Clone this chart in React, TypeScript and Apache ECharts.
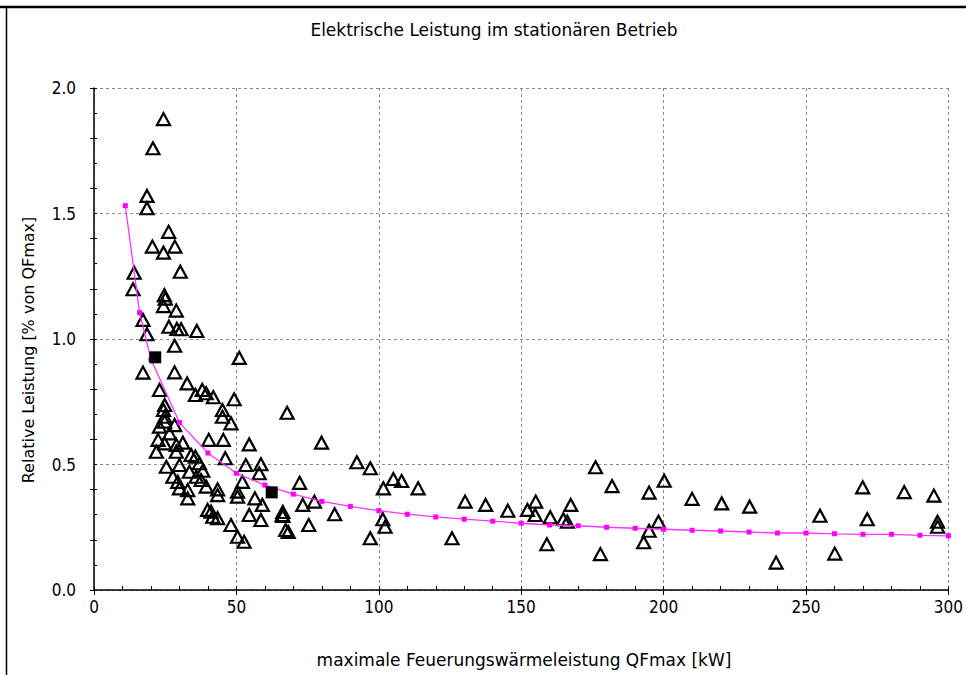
import React, { useEffect, useRef } from "react";
import * as echarts from "echarts";

// Tick values
const xTicks = [0, 50, 100, 150, 200, 250, 300];
const yTicks = [0, 0.5, 1.0, 1.5, 2.0];

// Fitted curve (magenta)
const fitX = [11, 16, 20, 30, 40, 50, 60, 70, 80, 90, 100, 110, 120, 130, 140, 150, 160, 170, 180, 190, 200, 210, 220, 230, 240, 250, 260, 270, 280, 290, 300];
const fitY = [1.531, 1.105, 0.919, 0.667, 0.546, 0.465, 0.418, 0.382, 0.353, 0.333, 0.316, 0.302, 0.291, 0.282, 0.274, 0.266, 0.259, 0.256, 0.25, 0.246, 0.242, 0.238, 0.235, 0.231, 0.227, 0.227, 0.224, 0.222, 0.222, 0.218, 0.216];

// Highlighted points (black squares)
const refX = [21.5, 62.4];
const refY = [0.927, 0.389];

// Measured values (triangles)
const measX = [
  24.4, 20.7, 18.6, 18.6, 26.2, 20.5, 24.4, 28.4, 14.1, 30.3, 13.7, 24.7, 25.0, 24.4, 28.9, 17.2, 26.3, 29.1, 30.6, 36.1,
  18.6, 28.3, 51.0, 17.2, 28.3, 32.7, 23.0, 38.0, 35.6, 39.4, 41.9, 49.2, 24.8, 24.4, 45.1, 67.8, 24.8, 45.1, 24.8, 48.1,
  28.3, 23.0, 26.5, 22.5, 31.2, 40.3, 45.4, 54.5, 24.8, 28.9, 21.9, 28.9, 34.1, 35.6, 46.1, 37.0, 53.3, 58.6, 30.0, 25.4,
  33.5, 38.2, 27.7, 35.9, 58.0, 52.1, 29.4, 37.6, 30.0, 32.9, 39.4, 43.4, 50.4, 50.4, 32.9, 43.4, 56.5, 59.1, 66.1, 39.9,
  41.1, 43.4, 41.7, 54.5, 58.6, 48.1, 67.3, 50.4, 52.7,
  79.9, 92.3, 97.0, 72.2, 101.6, 105.1, 108.0, 113.8, 73.3, 77.4, 84.5, 66.3, 66.3, 68.2, 75.4, 97.0, 101.4, 102.2,
  130.3, 137.5, 145.3, 125.7, 152.2, 155.1, 154.9, 160.2, 159.0, 164.8, 166.2, 167.4, 176.1, 181.9, 177.8,
  194.9, 200.2, 198.2, 194.9, 193.0, 210.0, 220.4, 230.2, 239.5, 254.9, 260.1, 269.9, 271.5, 284.5, 294.9, 296.2, 296.2,
];
const measY = [
  1.876, 1.76, 1.57, 1.521, 1.427, 1.368, 1.344, 1.368, 1.264, 1.268, 1.198, 1.175, 1.161, 1.131, 1.113, 1.076, 1.049, 1.04, 1.039, 1.032,
  1.019, 0.973, 0.925, 0.866, 0.867, 0.823, 0.797, 0.797, 0.777, 0.784, 0.768, 0.76, 0.737, 0.717, 0.717, 0.706, 0.69, 0.69, 0.671, 0.664,
  0.657, 0.651, 0.624, 0.598, 0.587, 0.598, 0.598, 0.58, 0.584, 0.578, 0.551, 0.551, 0.538, 0.531, 0.525, 0.505, 0.498, 0.501, 0.498, 0.491,
  0.471, 0.475, 0.451, 0.451, 0.465, 0.431, 0.431, 0.438, 0.405, 0.398, 0.412, 0.401, 0.392, 0.372, 0.365, 0.378, 0.365, 0.339, 0.299, 0.319,
  0.312, 0.286, 0.292, 0.299, 0.279, 0.259, 0.239, 0.212, 0.192,
  0.587, 0.509, 0.485, 0.427, 0.405, 0.442, 0.434, 0.405, 0.339, 0.352, 0.302, 0.311, 0.295, 0.231, 0.259, 0.206, 0.282, 0.252,
  0.352, 0.339, 0.316, 0.206, 0.319, 0.352, 0.299, 0.29, 0.182, 0.282, 0.272, 0.339, 0.489, 0.414, 0.143,
  0.388, 0.435, 0.272, 0.236, 0.19, 0.363, 0.345, 0.332, 0.109, 0.296, 0.145, 0.409, 0.282, 0.39, 0.376, 0.272, 0.252,
];

const titleText = "Elektrische Leistung im stationären Betrieb";
const xTitle = "maximale Feuerungswärmeleistung QFmax [kW]";
const yTitle = "Relative Leistung [% von QFmax]";

const TICK_FONT = "'Liberation Sans Narrow', 'Arial Narrow', 'DejaVu Sans Condensed', sans-serif";
const TITLE_FONT = "'DejaVu Sans', 'Liberation Sans', sans-serif";

export default function App() {
  const ref = useRef<HTMLDivElement>(null);

  useEffect(() => {
    document.body.style.margin = "0";
    if (!ref.current) return;
    const chart = echarts.init(ref.current, undefined, { renderer: "svg" });

    const measured = measX.map((x, i) => [x, measY[i]]);
    const fit = fitX.map((x, i) => [x, fitY[i]]);
    const refs = refX.map((x, i) => [x, refY[i]]);

    const axisBase = { type: "value" as const, min: 0 };

    chart.setOption({
      animation: false,
      grid: { left: 94, right: 13, top: 88, bottom: 85, containLabel: false },
      xAxis: [
        {
          ...axisBase,
          max: 300,
          interval: 50,
          position: "bottom",
          axisLine: { show: true, onZero: false, lineStyle: { color: "#000", width: 1.5 } },
          axisTick: { show: true, inside: false, length: 5, lineStyle: { color: "#000", width: 1 } },
          axisLabel: {
            color: "#000",
            fontSize: 17,
            fontFamily: TICK_FONT,
            margin: 8,
            formatter: (v: number) => (xTicks.includes(v) ? String(v) : ""),
          },
          splitLine: { show: true, lineStyle: { color: "#8a8a8a", type: [3, 3], width: 1 } },
        },
        {
          ...axisBase,
          max: 300,
          interval: 10,
          position: "bottom",
          axisLine: { show: false },
          axisTick: { show: true, inside: true, length: 4, lineStyle: { color: "#000", width: 1 } },
          axisLabel: { show: false },
          splitLine: { show: false },
        },
      ],
      yAxis: [
        {
          ...axisBase,
          max: 2,
          interval: 0.5,
          position: "left",
          axisLine: { show: true, onZero: false, lineStyle: { color: "#000", width: 1.5 } },
          axisTick: { show: false },
          axisLabel: {
            color: "#000",
            fontSize: 17,
            fontFamily: TICK_FONT,
            margin: 18,
            formatter: (v: number) => (yTicks.some((t) => Math.abs(t - v) < 1e-6) ? v.toFixed(1) : ""),
          },
          splitLine: { show: true, lineStyle: { color: "#8a8a8a", type: [3, 3], width: 1 } },
        },
        {
          ...axisBase,
          max: 2,
          interval: 0.1,
          position: "left",
          axisLine: { show: false },
          axisTick: { show: true, inside: true, length: 3, lineStyle: { color: "#000", width: 1 } },
          axisLabel: { show: false },
          splitLine: { show: false },
        },
        {
          ...axisBase,
          max: 2,
          interval: 0.2,
          position: "left",
          axisLine: { show: false },
          axisTick: { show: true, inside: false, length: 4, lineStyle: { color: "#000", width: 1 } },
          axisLabel: { show: false },
          splitLine: { show: false },
        },
      ],
      series: [
        {
          type: "scatter",
          name: "Messwerte",
          data: measured,
          symbol: "triangle",
          symbolSize: [13, 12],
          itemStyle: { color: "rgba(255,255,255,0)", borderColor: "#000", borderWidth: 2.2, opacity: 1 },
          z: 2,
        },
        {
          type: "line",
          name: "Ausgleich",
          data: fit,
          symbol: "rect",
          symbolSize: 5,
          showSymbol: true,
          lineStyle: { color: "#ff33ff", width: 1.3 },
          itemStyle: { color: "#ff00ff", opacity: 1 },
          z: 3,
        },
        {
          type: "scatter",
          name: "Referenz",
          data: refs,
          symbol: "rect",
          symbolSize: 12,
          itemStyle: { color: "#000", opacity: 1 },
          z: 4,
        },
      ],
      graphic: [
        { type: "line", shape: { x1: 0, y1: 7, x2: 966, y2: 7 }, style: { stroke: "#000", lineWidth: 2.5 } },
        { type: "line", shape: { x1: 6.5, y1: 7, x2: 6.5, y2: 675 }, style: { stroke: "#000", lineWidth: 1.5 } },
        {
          type: "text",
          x: 494,
          y: 30,
          style: { text: titleText, fill: "#000", fontSize: 17, fontFamily: TITLE_FONT, align: "center", verticalAlign: "middle" },
        },
        {
          type: "text",
          x: 524,
          y: 660,
          style: { text: xTitle, fill: "#000", fontSize: 17, fontFamily: TITLE_FONT, align: "center", verticalAlign: "middle" },
        },
        {
          type: "text",
          x: 28,
          y: 350,
          rotation: Math.PI / 2,
          style: { text: yTitle, fill: "#000", fontSize: 16, fontFamily: TITLE_FONT, align: "center", verticalAlign: "middle" },
        },
      ],
    });

    return () => chart.dispose();
  }, []);

  return <div ref={ref} style={{ width: 966, height: 675 }} />;
}
